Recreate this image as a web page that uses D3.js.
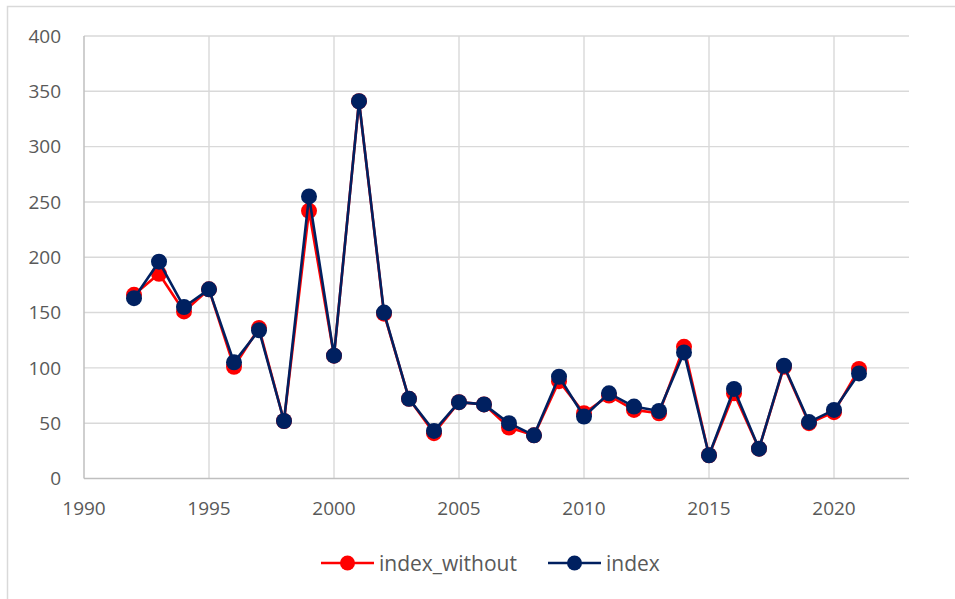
<!DOCTYPE html>
<html>
<head>
<meta charset="utf-8">
<script src="https://cdn.jsdelivr.net/npm/d3@7"></script>
<style>
  html, body { margin: 0; padding: 0; background: #fff; }
  svg { display: block; }
  text { font-family: "Open Sans", "Noto Sans", sans-serif; fill: #595959; }
</style>
</head>
<body>
<svg id="chart" width="955" height="599"></svg>
<script>
const years = [1992,1993,1994,1995,1996,1997,1998,1999,2000,2001,2002,2003,2004,2005,2006,2007,2008,2009,2010,2011,2012,2013,2014,2015,2016,2017,2018,2019,2020,2021];
const indexWithout = [166,185,151,171,101,136,52,242,111,341,149,72,41,69,67,46,39,88,59,75,62,59,119,21,77,27,101,50,60,99];
const indexValues  = [163,196,155,171,105,134,52,255,111,341,150,72,43,69,67,50,39,92,56,77,65,61,114,21,81,27,102,51,62,95];
const xTicks = [1990,1995,2000,2005,2010,2015,2020];
const yTicks = [0,50,100,150,200,250,300,350,400];
const seriesNames = ["index_without","index"];
const seriesColors = ["#FF0000","#002060"];

const svg = d3.select("#chart");

// chart border
svg.append("rect").attr("x",7.5).attr("y",6.5).attr("width",1000).attr("height",1000)
  .attr("fill","none").attr("stroke","#d9d9d9").attr("stroke-width",1.5);

const x = d3.scaleLinear().domain([1990,2023]).range([84,909]);
const y = d3.scaleLinear().domain([0,400]).range([478.5,36]);

// horizontal grid
svg.append("g").selectAll("line").data(yTicks.filter(d=>d>0)).join("line")
  .attr("x1",x(1990)).attr("x2",x(2023))
  .attr("y1",d=>y(d)).attr("y2",d=>y(d))
  .attr("stroke","#d9d9d9").attr("stroke-width",1.4);
// vertical grid
svg.append("g").selectAll("line").data(xTicks.filter(d=>d>1990)).join("line")
  .attr("x1",d=>x(d)).attr("x2",d=>x(d))
  .attr("y1",y(0)).attr("y2",y(400))
  .attr("stroke","#d9d9d9").attr("stroke-width",1.4);

// axes lines
svg.append("line").attr("x1",x(1990)).attr("x2",x(1990)).attr("y1",y(0)).attr("y2",y(400))
  .attr("stroke","#bfbfbf").attr("stroke-width",1.5);
svg.append("line").attr("x1",x(1990)).attr("x2",x(2023)).attr("y1",y(0)).attr("y2",y(0))
  .attr("stroke","#bfbfbf").attr("stroke-width",1.5);

// tick labels
svg.append("g").selectAll("text").data(yTicks).join("text")
  .attr("x",61).attr("y",d=>y(d)).attr("dy","0.36em")
  .attr("text-anchor","end").attr("font-size",19).text(d=>d);
svg.append("g").selectAll("text").data(xTicks).join("text")
  .attr("x",d=>x(d)).attr("y",508).attr("dy","0.36em")
  .attr("text-anchor","middle").attr("font-size",19).text(d=>d);

// series
const allSeries = [indexWithout, indexValues];
const line = d3.line().x(d=>x(d[0])).y(d=>y(d[1]));
allSeries.forEach((vals,i)=>{
  const pts = years.map((yr,j)=>[yr, vals[j]]);
  const g = svg.append("g");
  g.append("path").datum(pts).attr("d",line).attr("fill","none")
    .attr("stroke",seriesColors[i]).attr("stroke-width",2.6).attr("stroke-linejoin","round");
  g.selectAll("circle").data(pts).join("circle")
    .attr("cx",d=>x(d[0])).attr("cy",d=>y(d[1])).attr("r",8)
    .attr("fill",seriesColors[i]);
});

// legend
const legendItems = [{x0:321, tx:379},{x0:548, tx:606}];
const ly = 563;
legendItems.forEach((it,i)=>{
  const g = svg.append("g");
  g.append("line").attr("x1",it.x0).attr("x2",it.x0+53).attr("y1",ly).attr("y2",ly)
    .attr("stroke",seriesColors[i]).attr("stroke-width",2.6);
  g.append("circle").attr("cx",it.x0+26.5).attr("cy",ly).attr("r",7.5).attr("fill",seriesColors[i]);
  g.append("text").attr("x",it.tx).attr("y",ly).attr("dy","0.36em")
    .attr("font-size",21).text(seriesNames[i]);
});
</script>
</body>
</html>
